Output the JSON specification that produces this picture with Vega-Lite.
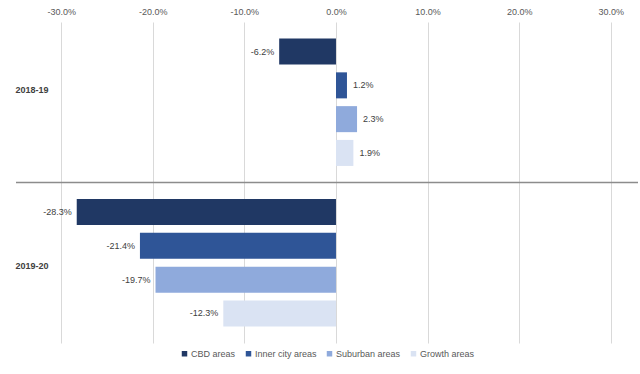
{
  "$schema": "https://vega.github.io/schema/vega-lite/v6.json",
  "width": 622,
  "height": 321,
  "autosize": {"type": "none"},
  "padding": {"left": 16, "top": 22, "right": 2, "bottom": 31},
  "background": "white",
  "config": {
    "view": {"stroke": null},
    "font": "Liberation Sans",
    "legend": {"layout": {"bottom": {"anchor": "middle"}}},
    "locale": {"number": {"decimal": ".", "thousands": ",", "grouping": [3], "currency": ["$", ""], "minus": "-"}}
  },
  "data": {
    "values": [
      {"period": "2018-19", "area": "CBD areas", "value": -0.062},
      {"period": "2018-19", "area": "Inner city areas", "value": 0.012},
      {"period": "2018-19", "area": "Suburban areas", "value": 0.023},
      {"period": "2018-19", "area": "Growth areas", "value": 0.019},
      {"period": "2019-20", "area": "CBD areas", "value": -0.283},
      {"period": "2019-20", "area": "Inner city areas", "value": -0.214},
      {"period": "2019-20", "area": "Suburban areas", "value": -0.197},
      {"period": "2019-20", "area": "Growth areas", "value": -0.123}
    ]
  },
  "encoding": {
    "y": {
      "field": "period", "type": "nominal",
      "scale": {"domain": ["2018-19", "2019-20"], "paddingInner": 0, "paddingOuter": 0},
      "axis": {"title": null, "domain": false, "ticks": false, "labelAlign": "left", "labelPadding": 1, "labelFontSize": 9, "labelFontWeight": "bold", "labelColor": "#404040",
        "labelOffset": {"condition": {"test": "datum.value === '2018-19'", "value": -12}, "value": 3}}
    },
    "yOffset": {
      "field": "area", "type": "nominal",
      "sort": ["CBD areas", "Inner city areas", "Suburban areas", "Growth areas"],
      "scale": {"paddingInner": 0.23, "paddingOuter": 0.49}
    }
  },
  "layer": [
    {
      "mark": {"type": "bar"},
      "encoding": {
        "x": {
          "field": "value", "type": "quantitative",
          "scale": {"domain": [-0.3493, 0.3297], "nice": false, "zero": false},
          "axis": {"orient": "top", "title": null, "values": [-0.3, -0.2, -0.1, 0, 0.1, 0.2, 0.3], "format": ".1%", "domain": false, "ticks": false, "grid": true, "gridColor": "#d9d9d9", "labelFontSize": 9, "labelColor": "#595959", "labelPadding": 6}
        },
        "x2": {"datum": 0},
        "color": {
          "field": "area", "type": "nominal",
          "sort": ["CBD areas", "Inner city areas", "Suburban areas", "Growth areas"],
          "scale": {"domain": ["CBD areas", "Inner city areas", "Suburban areas", "Growth areas"], "range": ["#203864", "#2f5597", "#8faadc", "#dae3f3"]},
          "legend": {"orient": "bottom", "direction": "horizontal", "title": null, "symbolType": "square", "symbolSize": 30, "symbolStrokeWidth": 0, "labelFontSize": 9, "labelColor": "#595959", "columnPadding": 8, "offset": 6, "labelOffset": 2}
        }
      }
    },
    {
      "transform": [{"filter": "datum.value < 0"}],
      "mark": {"type": "text", "align": "right", "dx": -5, "fontSize": 9, "color": "#404040"},
      "encoding": {
        "x": {"field": "value", "type": "quantitative"},
        "text": {"field": "value", "type": "quantitative", "format": ".1%"}
      }
    },
    {
      "transform": [{"filter": "datum.value >= 0"}],
      "mark": {"type": "text", "align": "left", "dx": 6, "fontSize": 9, "color": "#404040"},
      "encoding": {
        "x": {"field": "value", "type": "quantitative"},
        "text": {"field": "value", "type": "quantitative", "format": ".1%"}
      }
    },
    {
      "data": {"values": [{"boundary": "2019-20"}]},
      "mark": {"type": "rule", "color": "#8c8c8c", "strokeWidth": 1.3},
      "encoding": {
        "y": {"field": "boundary", "type": "nominal", "bandPosition": 0},
        "yOffset": null
      }
    }
  ]
}
